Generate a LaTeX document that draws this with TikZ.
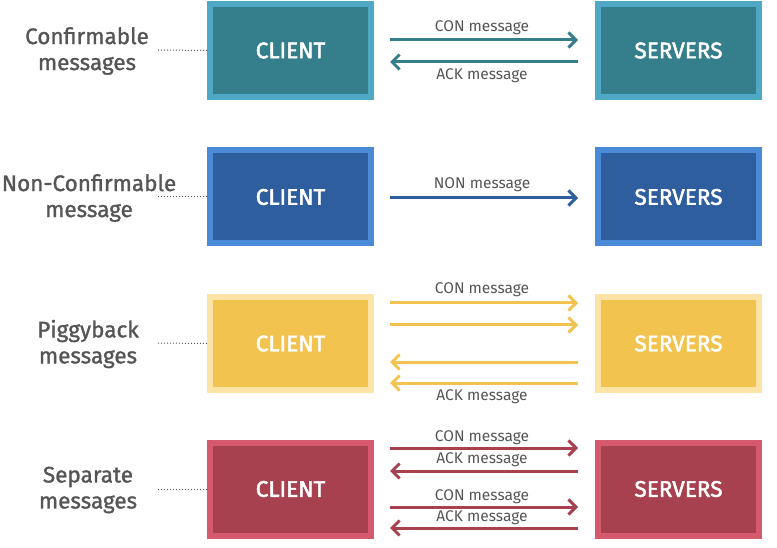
\documentclass[tikz,border=0pt]{standalone}
\usepackage{fontspec}
\setmainfont{Fira Sans}
\newfontfamily\medfont{Fira Sans}[FakeBold=1.2]
\newfontfamily\boxfont{Fira Sans}[FakeBold=2.2]
\usetikzlibrary{arrows.meta}
\definecolor{tealIn}{HTML}{357F8C}
\definecolor{tealOut}{HTML}{4FA9C4}
\definecolor{blueIn}{HTML}{2F5E9E}
\definecolor{blueOut}{HTML}{4A8AD6}
\definecolor{yelIn}{HTML}{F2C34F}
\definecolor{yelOut}{HTML}{FCE3A6}
\definecolor{redIn}{HTML}{A8414F}
\definecolor{redOut}{HTML}{D65A6E}
\definecolor{txt}{HTML}{555555}
\tikzset{
  party/.style={minimum width=161pt, minimum height=93pt, line width=6pt,
    text=white, font=\fontsize{22.5}{26}\boxfont, inner sep=0pt},
  kind/.style={align=center, text=txt, font=\fontsize{22.5}{26}\medfont, inner sep=0pt},
  msg/.style={text=txt, font=\fontsize{15.5}{18}\selectfont, inner sep=0pt},
  flow/.style={line width=3pt, -{Straight Barb[length=7.5pt,width=15pt,line width=3pt]}},
  dots/.style={line width=1pt, dotted, txt},
}
\begin{document}
\begin{tikzpicture}[x=1pt,y=-1pt]
\useasboundingbox (0,0) rectangle (777,548);

% ---- Confirmable ----
\node[party, fill=tealIn, draw=tealOut] (c1) at (290.5,50.5) {CLIENT};
\node[party, fill=tealIn, draw=tealOut] (s1) at (678.5,50.5) {SERVERS};
\node[kind] (k1) at (87,51) {Confirmable\\messages};
\coordinate (d1) at (158,50);
\draw[dots] (d1) -- (c1.west);
\coordinate (a1l) at (390,40); \coordinate (a1r) at (578,40);
\coordinate (b1l) at (390,62); \coordinate (b1r) at (578,62);
\draw[flow, tealIn] (a1l) -- (a1r);
\draw[flow, tealIn] (b1r) -- (b1l);
\node[msg] (m1a) at (482,28) {CON message};
\node[msg] (m1b) at (482,76) {ACK message};

% ---- Non-Confirmable ----
\node[party, fill=blueIn, draw=blueOut] (c2) at (290.5,197) {CLIENT};
\node[party, fill=blueIn, draw=blueOut] (s2) at (678.5,197) {SERVERS};
\node[kind] (k2) at (89,198) {Non-Confirmable\\message};
\coordinate (d2) at (158,197);
\draw[dots] (d2) -- (c2.west);
\coordinate (a2l) at (390,198); \coordinate (a2r) at (578,198);
\draw[flow, blueIn] (a2l) -- (a2r);
\node[msg] (m2a) at (482,185) {NON message};

% ---- Piggyback ----
\node[party, fill=yelIn, draw=yelOut] (c3) at (290.5,343.5) {CLIENT};
\node[party, fill=yelIn, draw=yelOut] (s3) at (678.5,343.5) {SERVERS};
\node[kind] (k3) at (88,344) {Piggyback\\messages};
\coordinate (d3) at (158,343);
\draw[dots] (d3) -- (c3.west);
\coordinate (a3l) at (390,303); \coordinate (a3r) at (578,303);
\coordinate (b3l) at (390,325); \coordinate (b3r) at (578,325);
\coordinate (e3l) at (390,362); \coordinate (e3r) at (578,362);
\coordinate (f3l) at (390,383); \coordinate (f3r) at (578,383);
\draw[flow, yelIn] (a3l) -- (a3r);
\draw[flow, yelIn] (b3l) -- (b3r);
\draw[flow, yelIn] (e3r) -- (e3l);
\draw[flow, yelIn] (f3r) -- (f3l);
\node[msg] (m3a) at (482,290) {CON message};
\node[msg] (m3b) at (482,397) {ACK message};

% ---- Separate ----
\node[party, fill=redIn, draw=redOut] (c4) at (290.5,489) {CLIENT};
\node[party, fill=redIn, draw=redOut] (s4) at (678.5,489) {SERVERS};
\node[kind] (k4) at (88,490) {Separate\\messages};
\coordinate (d4) at (158,489);
\draw[dots] (d4) -- (c4.west);
\coordinate (a4l) at (390,448); \coordinate (a4r) at (578,448);
\coordinate (b4l) at (390,471); \coordinate (b4r) at (578,471);
\coordinate (e4l) at (390,507); \coordinate (e4r) at (578,507);
\coordinate (f4l) at (390,528); \coordinate (f4r) at (578,528);
\draw[flow, redIn] (a4l) -- (a4r);
\draw[flow, redIn] (b4r) -- (b4l);
\draw[flow, redIn] (e4l) -- (e4r);
\draw[flow, redIn] (f4r) -- (f4l);
\node[msg] (m4a) at (482,438) {CON message};
\node[msg] (m4b) at (482,460) {ACK message};
\node[msg] (m4c) at (482,497) {CON message};
\node[msg] (m4d) at (482,518) {ACK message};
\end{tikzpicture}
\end{document}
